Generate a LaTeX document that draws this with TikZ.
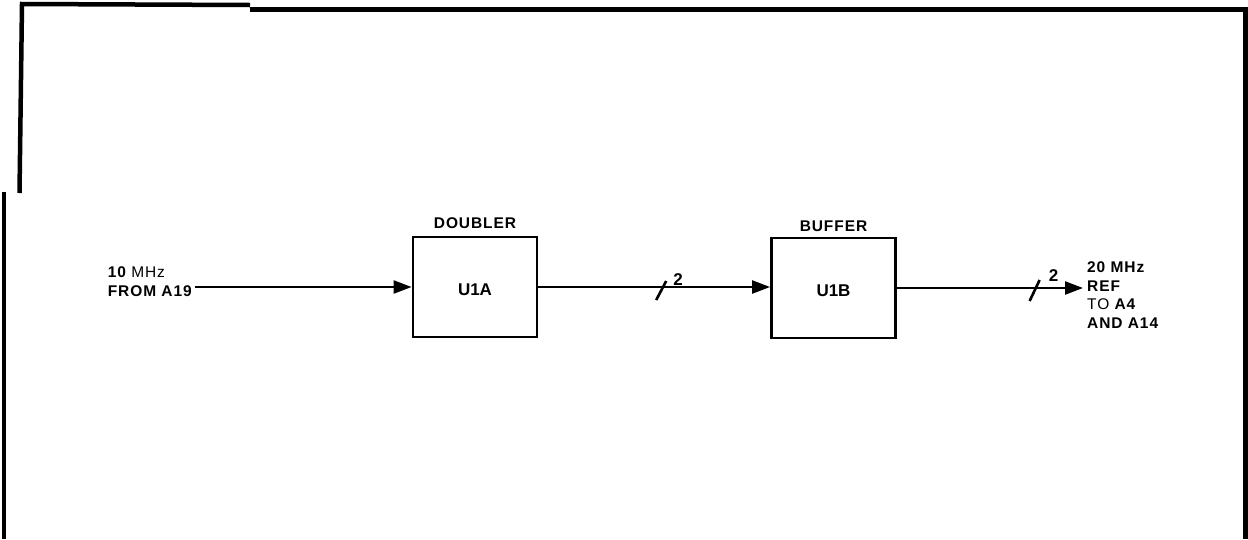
\documentclass[tikz,border=0pt]{standalone}
\usepackage{fontspec}
\setmainfont{Liberation Sans}
\newfontfamily\lblfont[LetterSpace=6]{Liberation Sans}
\usepackage{tikz}
\usetikzlibrary{arrows.meta,positioning,calc}

\begin{document}
\begin{tikzpicture}[x=1pt,y=-1pt,
      frame/.style={line width=4.5pt},
      blk/.style={rectangle,draw,line width=2.8pt,minimum width=124pt,minimum height=100pt,
                  font=\bfseries\fontsize{17}{20}\selectfont},
      lbl/.style={inner sep=0pt,align=left,font=\lblfont\bfseries\fontsize{15.5}{18.7}\selectfont},
      sig/.style={line width=2.3pt,-{Triangle[length=18pt,width=13pt]}},
      slash/.style={line width=2.6pt},
      busw/.style={inner sep=0pt,font=\bfseries\fontsize{17}{20}\selectfont}]
    \useasboundingbox (0,0) rectangle (1248,539);
    % outline of the sheet
    \draw[frame] (250,5) -- (22,4) -- (19.5,193);
    \draw[frame,line width=5.5pt] (250,9.5) -- (1246,9.5);
    \draw[frame] (1245.5,7) -- (1245.5,539);
    \draw[frame] (4,192) -- (4,539);
    % blocks
    \node[blk] (u1a) at (475,287) {\raisebox{-3pt}[\height][0pt]{U1A}};
    \node[blk] (u1b) at (833.5,288) {\raisebox{-3pt}[\height][0pt]{U1B}};
    \node[lbl,above=7pt of u1a] (dbl) {DOUBLER};
    \node[lbl,above=5pt of u1b] (buf) {BUFFER};
    % input and output
    \node[lbl,anchor=east,inner xsep=3pt] (src) at (195,282) {10 {\mdseries MHz}\\FROM A19};
    \node[lbl,anchor=west,inner xsep=4pt] (dst) at (1083,295)
      {20 MHz\\REF\\{\mdseries TO} A4\\AND A14};
    \draw[sig] (src.east |- u1a.west) -- (u1a.west);
    \draw[sig] (u1a.east) -- (u1a.east -| u1b.west);
    \draw[sig] (u1b.east) -- (u1b.east -| dst.west);
    % bus width marks
    \path (u1a.east) -- (u1a.east -| u1b.west) coordinate[pos=0.53] (b1);
    \path (u1b.east) -- (u1b.east -| dst.west) coordinate[pos=0.74] (b2);
    \draw[slash] ($(b1)+(-5,13)$) -- ($(b1)+(5,-6)$);
    \draw[slash] ($(b2)+(-5,13)$) -- ($(b2)+(5,-8)$);
    \node[busw] (n1) at ($(b1)+(17,-7)$) {2};
    \node[busw] (n2) at ($(b2)+(19,-12)$) {2};
  \end{tikzpicture}
\end{document}
